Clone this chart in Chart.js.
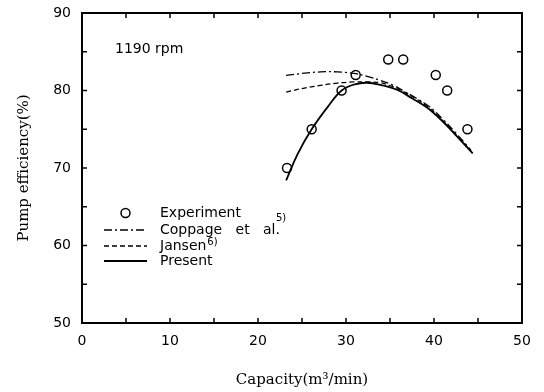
<!DOCTYPE html>
<html>
<head>
<meta charset="utf-8">
<script src="https://cdn.jsdelivr.net/npm/chart.js@4.4.1/dist/chart.umd.min.js"></script>
<style>
  body { margin: 0; background: #fff; }
  canvas { display: block; }
</style>
</head>
<body>
<canvas id="pumpChart" width="544" height="392"></canvas>
<script>
// measured points
const expCapacity = [23.3, 26.1, 29.5, 31.1, 34.8, 36.5, 40.2, 41.5, 43.8];
const expEfficiency = [70, 75, 80, 82, 84, 84, 82, 80, 75];

// predicted curves
const presentCapacity = [23.2, 24.5, 26.1, 28, 29.5, 31, 32.4, 34, 35.8, 37.5, 39.2, 41, 42.5, 44.4];
const presentEfficiency = [68.4, 71.8, 75.0, 78.0, 80.0, 80.8, 81.0, 80.7, 80.1, 79.0, 77.8, 76.0, 74.2, 71.9];

const coppageCapacity = [23.2, 25, 27.1, 29, 30.9, 32.5, 33.9, 35.3, 36.6, 38, 39.5, 41, 42.5, 44.2];
const coppageEfficiency = [81.95, 82.2, 82.4, 82.4, 82.2, 81.8, 81.3, 80.7, 79.9, 79.0, 77.9, 76.3, 74.5, 72.3];

const jansenCapacity = [23.2, 25, 27.1, 29, 30.9, 32.5, 33.9, 35.3, 36.6, 38, 39.5, 41, 42.5, 44.2];
const jansenEfficiency = [79.8, 80.25, 80.65, 80.95, 81.1, 81.1, 81.0, 80.5, 79.8, 78.9, 77.7, 76.1, 74.3, 72.2];

const xTicks = [0, 10, 20, 30, 40, 50];
const yTicks = [50, 60, 70, 80, 90];

const toXY = (xs, ys) => xs.map((x, i) => ({ x: x, y: ys[i] }));

const SANS = '"DejaVu Sans", sans-serif';
const SERIF = '"DejaVu Serif", serif';

// frame, inward ticks, legend and the rpm note
const framePlugin = {
    id: 'frame',
    afterDraw(chart) {
        const ctx = chart.ctx;
        const a = chart.chartArea;
        const xs = chart.scales.x, ys = chart.scales.y;
        ctx.save();
        ctx.strokeStyle = '#000';
        ctx.lineWidth = 2;
        ctx.strokeRect(a.left, a.top, a.right - a.left, a.bottom - a.top);

        ctx.lineWidth = 1.5;
        const len = 5;
        ctx.beginPath();
        for (let v = 5; v < 50; v += 5) {
            const px = xs.getPixelForValue(v);
            ctx.moveTo(px, a.bottom); ctx.lineTo(px, a.bottom - len);
            ctx.moveTo(px, a.top); ctx.lineTo(px, a.top + len);
        }
        for (let v = 55; v < 90; v += 5) {
            const py = ys.getPixelForValue(v);
            ctx.moveTo(a.left, py); ctx.lineTo(a.left + len, py);
            ctx.moveTo(a.right, py); ctx.lineTo(a.right - len, py);
        }
        ctx.stroke();

        ctx.fillStyle = '#000';
        ctx.textBaseline = 'middle';
        ctx.textAlign = 'left';
        ctx.font = '14px ' + SANS;
        ctx.fillText('1190 rpm', a.left + 33, a.top + 36);

        // legend
        const lx0 = a.left + 22, lx1 = a.left + 65, tx = a.left + 78;
        const rows = [a.top + 200, a.top + 217, a.top + 233, a.top + 248];
        ctx.lineWidth = 1.5;
        ctx.beginPath();
        ctx.arc((lx0 + lx1) / 2, rows[0], 4.5, 0, Math.PI * 2);
        ctx.stroke();

        const samples = [[8, 3, 2, 3], [5, 3], []];
        samples.forEach((dash, i) => {
            ctx.setLineDash(dash);
            ctx.lineWidth = i === 2 ? 2 : 1.3;
            ctx.beginPath();
            ctx.moveTo(lx0, rows[i + 1]);
            ctx.lineTo(lx1, rows[i + 1]);
            ctx.stroke();
        });
        ctx.setLineDash([]);

        ctx.font = '14px ' + SANS;
        ctx.fillText('Experiment', tx, rows[0]);
        ctx.fillText('Coppage   et   al.', tx, rows[1]);
        ctx.fillText('Jansen', tx, rows[2]);
        ctx.fillText('Present', tx, rows[3]);
        const w1 = ctx.measureText('Coppage   et   al.').width;
        const w2 = ctx.measureText('Jansen').width;
        ctx.font = '10px ' + SANS;
        ctx.fillText('5)', tx + w1 - 4, rows[1] - 12);
        ctx.fillText('6)', tx + w2 + 1, rows[2] - 4);
        ctx.restore();
    }
};

new Chart(document.getElementById('pumpChart'), {
    type: 'scatter',
    data: {
        datasets: [
            {
                label: 'Experiment',
                data: toXY(expCapacity, expEfficiency),
                pointStyle: 'circle',
                pointRadius: 4.5,
                pointBorderWidth: 1.5,
                borderColor: '#000',
                backgroundColor: 'rgba(0,0,0,0)',
                showLine: false,
                order: 0
            },
            {
                label: 'Coppage et al.',
                data: toXY(coppageCapacity, coppageEfficiency),
                showLine: true,
                borderColor: '#000',
                borderWidth: 1.3,
                borderDash: [8, 3, 2, 3],
                pointRadius: 0,
                tension: 0.4,
                order: 3
            },
            {
                label: 'Jansen',
                data: toXY(jansenCapacity, jansenEfficiency),
                showLine: true,
                borderColor: '#000',
                borderWidth: 1.3,
                borderDash: [5, 3],
                pointRadius: 0,
                tension: 0.4,
                order: 2
            },
            {
                label: 'Present',
                data: toXY(presentCapacity, presentEfficiency),
                showLine: true,
                borderColor: '#000',
                borderWidth: 1.8,
                pointRadius: 0,
                tension: 0.4,
                order: 1
            }
        ]
    },
    options: {
        responsive: false,
        animation: false,
        devicePixelRatio: 1,
        layout: { padding: { left: 0, right: 22, top: 13, bottom: 0 } },
        plugins: {
            legend: { display: false },
            tooltip: { enabled: false }
        },
        scales: {
            x: {
                type: 'linear',
                min: 0,
                max: 50,
                afterBuildTicks: s => { s.ticks = xTicks.map(v => ({ value: v })); },
                afterFit: s => { s.height = 69; s.paddingLeft = 0; s.paddingRight = 0; },
                ticks: {
                    autoSkip: false,
                    maxRotation: 0,
                    padding: 10,
                    color: '#000',
                    font: { family: SANS, size: 14 }
                },
                grid: { display: false, drawTicks: false },
                border: { display: false },
                title: {
                    display: true,
                    text: 'Capacity(m³/min)',
                    color: '#000',
                    font: { family: SERIF, size: 15 },
                    padding: { top: 0, bottom: 3 }
                }
            },
            y: {
                type: 'linear',
                min: 50,
                max: 90,
                afterBuildTicks: s => { s.ticks = yTicks.map(v => ({ value: v })); },
                afterFit: s => { s.width = 82; s.paddingTop = 0; s.paddingBottom = 0; },
                ticks: {
                    autoSkip: false,
                    padding: 11,
                    color: '#000',
                    font: { family: SANS, size: 14 }
                },
                grid: { display: false, drawTicks: false },
                border: { display: false },
                title: {
                    display: true,
                    text: 'Pump efficiency(%)',
                    color: '#000',
                    font: { family: SERIF, size: 15 },
                    padding: { top: 15, bottom: 0 }
                }
            }
        }
    },
    plugins: [framePlugin]
});
</script>
</body>
</html>
